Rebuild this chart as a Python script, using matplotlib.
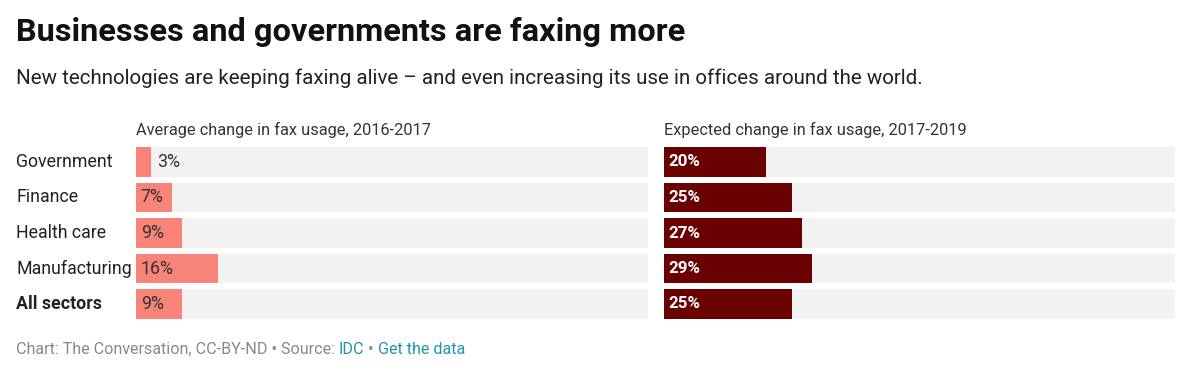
import matplotlib
matplotlib.use("Agg")
import matplotlib.pyplot as plt
from matplotlib.transforms import blended_transform_factory

plt.rcParams['font.family'] = ['Roboto', 'DejaVu Sans']

sectors = ["Government", "Finance", "Health care", "Manufacturing", "All sectors"]
avg_change = [3, 7, 9, 16, 9]         # 2016-2017
expected_change = [20, 25, 27, 29, 25]  # 2017-2019

title = "Businesses and governments are faxing more"
subtitle = "New technologies are keeping faxing alive \u2013 and even increasing its use in offices around the world."
left_header = "Average change in fax usage, 2016-2017"
right_header = "Expected change in fax usage, 2017-2019"

W, H = 1200, 386
fig = plt.figure(figsize=(W / 100, H / 100), dpi=100)

def fx(px):
    return px / W

def fy(py):
    return 1 - py / H

ax_top = fy(144.25)
ax_bot = fy(321.75)
ax1 = fig.add_axes([fx(136), ax_bot, fx(512), ax_top - ax_bot])
ax2 = fig.add_axes([fx(664), ax_bot, fx(511), ax_top - ax_bot])

bar_h = 0.82
ys = list(range(len(sectors)))

for ax, vals, col, txtcol, weight, fs in [
    (ax1, avg_change, "#f88379", "#333333", "normal", 12.8),
    (ax2, expected_change, "#6b0000", "white", "bold", 12.2),
]:
    ax.barh(ys, [100] * len(vals), height=bar_h, color="#f2f2f2", left=0)
    ax.barh(ys, vals, height=bar_h, color=col)
    ax.set_xlim(0, 100)
    ax.set_ylim(len(sectors) - 0.5, -0.5)
    ax.axis("off")
    for y, v in zip(ys, vals):
        if v < 5:
            ax.annotate(f"{v}%", (v, y), xytext=(4, 0), textcoords="offset points",
                        ha="left", va="center", fontsize=fs, color="#333333")
        else:
            ax.annotate(f"{v}%", (0, y), xytext=(3.5, 0), textcoords="offset points",
                        ha="left", va="center", fontsize=fs, color=txtcol,
                        fontweight=weight)

tr = blended_transform_factory(fig.transFigure, ax1.transData)
for y, s in zip(ys, sectors):
    ax1.text(fx(16), y, s, transform=tr, ha="left", va="center", fontsize=12.8,
             color="#222222", fontweight="bold" if s == "All sectors" else "normal")

fig.text(fx(16), fy(41), title, fontsize=23.4, fontweight="bold", color="#111111",
         ha="left", va="baseline")
fig.text(fx(16), fy(84), subtitle, fontsize=14.8, color="#222222",
         ha="left", va="baseline")
fig.text(fx(136), fy(135), left_header, fontsize=11.8, color="#333333",
         ha="left", va="baseline")
fig.text(fx(664), fy(135), right_header, fontsize=11.8, color="#333333",
         ha="left", va="baseline")

# footer with coloured links
parts = [("Chart: The Conversation, CC-BY-ND \u2022 Source: ", "#888888"),
         ("IDC", "#1d97b0"),
         (" \u2022 ", "#888888"),
         ("Get the data", "#1d97b0")]
fig.canvas.draw()
renderer = fig.canvas.get_renderer()
x = fx(16)
for s, c in parts:
    t = fig.text(x, fy(354), s, fontsize=11.6, color=c, ha="left", va="baseline")
    bb = t.get_window_extent(renderer)
    x += bb.width / W

fig.savefig("out.png", dpi=100, facecolor="white")
